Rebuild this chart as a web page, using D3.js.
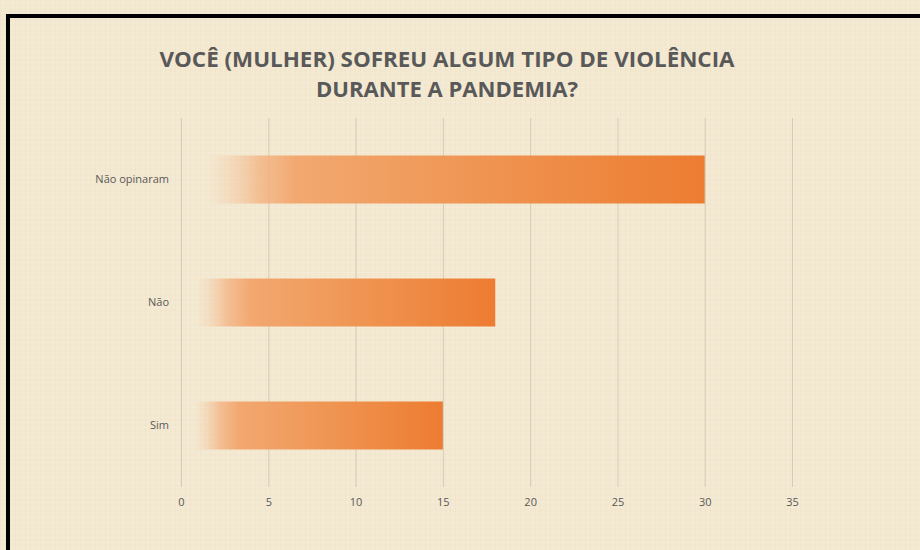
<!DOCTYPE html>
<html>
<head>
<meta charset="utf-8">
<script src="https://cdn.jsdelivr.net/npm/d3@7"></script>
<style>
  body { margin: 0; background: #fff; }
  svg { display: block; }
</style>
</head>
<body>
<svg id="chart" width="920" height="550"></svg>
<script>
// data
const categories = ["Não opinaram", "Não", "Sim"];
const values = [30, 18, 15];
const tickValues = [0, 5, 10, 15, 20, 25, 30, 35];
const titleLines = ["VOCÊ (MULHER) SOFREU ALGUM TIPO DE VIOLÊNCIA", "DURANTE A PANDEMIA?"];

const svg = d3.select("#chart");
const W = 920, H = 550;
const font = "'Open Sans', 'Liberation Sans', sans-serif";

const defs = svg.append("defs");

// fabric like texture for the background (kept faint)
const pat = defs.append("pattern")
    .attr("id", "cloth")
    .attr("width", 5).attr("height", 5)
    .attr("patternUnits", "userSpaceOnUse");
pat.append("rect").attr("width", 5).attr("height", 5).attr("fill", "#f3e8d0");
pat.append("rect").attr("x", 0).attr("y", 0).attr("width", 1).attr("height", 5)
    .attr("fill", "#ebdec4").attr("opacity", 0.35);
pat.append("rect").attr("x", 0).attr("y", 2).attr("width", 5).attr("height", 1)
    .attr("fill", "#f8f0de").attr("opacity", 0.4);

// bar fill: fades in from the background to orange
const grad = defs.append("linearGradient")
    .attr("id", "barGrad")
    .attr("x1", "0%").attr("x2", "100%").attr("y1", "0%").attr("y2", "0%");
const stops = [
    [0, "#f5c49c", 0], [5, "#f5c49c", 0], [10, "#f4bb8e", 0.35],
    [15, "#f3b07e", 0.75], [22, "#f2a870", 1], [60, "#ef9350", 1], [100, "#ed7c31", 1]
];
stops.forEach(s => grad.append("stop")
    .attr("offset", s[0] + "%").attr("stop-color", s[1]).attr("stop-opacity", s[2]));

svg.append("rect").attr("width", W).attr("height", H).attr("fill", "url(#cloth)");

// black frame (only top and left are inside the picture)
svg.append("rect")
    .attr("x", 8).attr("y", 16)
    .attr("width", W + 40).attr("height", H + 40)
    .attr("fill", "none").attr("stroke", "#000").attr("stroke-width", 4);

// title
svg.append("text")
    .attr("x", 447).attr("y", 67)
    .attr("text-anchor", "middle")
    .attr("font-family", font).attr("font-weight", "bold")
    .attr("font-size", 22).attr("fill", "#595959")
    .attr("textLength", 575).attr("lengthAdjust", "spacingAndGlyphs")
    .text(titleLines[0]);
svg.append("text")
    .attr("x", 447).attr("y", 97)
    .attr("text-anchor", "middle")
    .attr("font-family", font).attr("font-weight", "bold")
    .attr("font-size", 22).attr("fill", "#595959")
    .attr("textLength", 262).attr("lengthAdjust", "spacingAndGlyphs")
    .text(titleLines[1]);

const x = d3.scaleLinear().domain([0, 35]).range([181, 792]);
const y = d3.scaleBand().domain(categories).range([118, 487]).paddingInner(0.61).paddingOuter(0.305);

// gridlines
svg.append("g")
    .selectAll("line")
    .data(tickValues)
    .join("line")
    .attr("x1", d => x(d) + 0.5).attr("x2", d => x(d) + 0.5)
    .attr("y1", 118).attr("y2", 487)
    .attr("stroke", "#d4cbb9").attr("stroke-width", 1);

// x axis labels
const xAxis = d3.axisBottom(x).tickValues(tickValues).tickSize(0).tickPadding(0);
const gx = svg.append("g").attr("transform", "translate(0,498)").call(xAxis);
gx.select(".domain").remove();
gx.selectAll("text")
    .attr("font-family", font).attr("font-size", 11).attr("fill", "#595959");

// y axis labels
const yAxis = d3.axisLeft(y).tickSize(0).tickPadding(12);
const gy = svg.append("g").attr("transform", "translate(181,0)").call(yAxis);
gy.select(".domain").remove();
gy.selectAll("text")
    .attr("font-family", font).attr("font-size", 11).attr("fill", "#595959");

// bars
svg.append("g")
    .selectAll("rect")
    .data(categories)
    .join("rect")
    .attr("x", x(0))
    .attr("y", d => y(d))
    .attr("width", (d, i) => x(values[i]) - x(0))
    .attr("height", y.bandwidth())
    .attr("fill", "url(#barGrad)");
</script>
</body>
</html>
